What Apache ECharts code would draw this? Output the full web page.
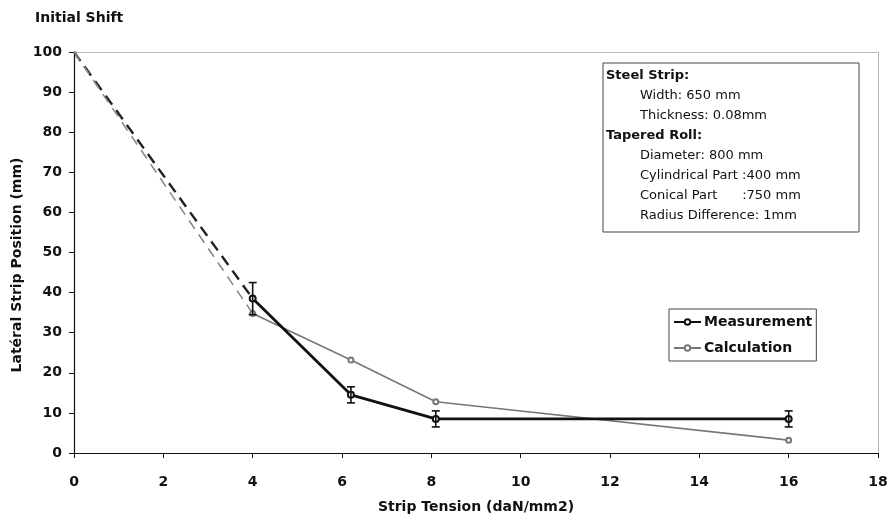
<!DOCTYPE html>
<html>
<head>
<meta charset="utf-8">
<script src="https://cdn.jsdelivr.net/npm/echarts@6/dist/echarts.min.js"></script>
<style>
  html, body { margin: 0; padding: 0; background: #fff; }
  #chart { width: 891px; height: 524px; }
</style>
</head>
<body>
<div id="chart"></div>
<script>
// measured points with error bars
const measX = [4, 6.2, 8.1, 16]
const measY = [38.5, 14.5, 8.5, 8.5]
const measErr = [4, 2, 2, 2]
// calculated points
const calcX = [4, 6.2, 8.1, 16]
const calcY = [34.8, 23.2, 12.8, 3.2]
// initial shift, extrapolated back to zero tension
const initialShift = [0, 100]
const xTicks = [0, 2, 4, 6, 8, 10, 12, 14, 16, 18]
const yTicks = [0, 10, 20, 30, 40, 50, 60, 70, 80, 90, 100]
const infoLines = [
  ['Steel Strip:', true],
  ['Width: 650 mm', false],
  ['Thickness: 0.08mm', false],
  ['Tapered Roll:', true],
  ['Diameter: 800 mm', false],
  ['Cylindrical Part :400 mm', false],
  ['Conical Part      :750 mm', false],
  ['Radius Difference: 1mm', false]
]

const font = 'DejaVu Sans'
const pair = (xs, ys) => xs.map((x, i) => [x, ys[i]])

let infoGraphics = [{
  type: 'rect',
  shape: { x: 603, y: 63, width: 256, height: 169 },
  style: { fill: '#fff', stroke: '#444', lineWidth: 1 }
}]
infoLines.forEach((l, i) => {
  infoGraphics.push({
    type: 'text',
    left: l[1] ? 606 : 640,
    top: 69 + i * 20,
    style: {
      text: l[0],
      font: (l[1] ? 'bold ' : '') + '13px "' + font + '"',
      fill: '#111'
    }
  })
})

let myChart = echarts.init(document.getElementById('chart'))
myChart.setOption({
  animation: false,
  backgroundColor: '#fff',
  textStyle: { fontFamily: font },
  grid: { left: 74, right: 13, top: 52, bottom: 71 },
  title: {
    text: 'Initial Shift',
    left: 30,
    top: 6,
    textStyle: { fontFamily: font, fontSize: 14, fontWeight: 'bold', color: '#111' }
  },
  legend: {
    orient: 'vertical',
    left: 669,
    top: 309,
    padding: [5, 4],
    itemGap: 10,
    itemWidth: 27,
    itemHeight: 7,
    borderColor: '#444',
    borderWidth: 1,
    backgroundColor: '#fff',
    data: ['Measurement', 'Calculation'],
    textStyle: { fontFamily: font, fontSize: 14, fontWeight: 'bold', color: '#111', padding: [0, 0, 0, -2], lineHeight: 16 }
  },
  xAxis: [
    {
      type: 'value',
      min: xTicks[0],
      max: xTicks[xTicks.length - 1],
      interval: 2,
      name: 'Strip Tension (daN/mm2)',
      nameLocation: 'middle',
      nameGap: 47,
      nameTextStyle: { fontFamily: font, fontSize: 14, fontWeight: 'bold', color: '#111' },
      axisLine: { lineStyle: { color: '#111', width: 1.2 } },
      axisTick: { show: true, length: 5, lineStyle: { color: '#111' } },
      axisLabel: { margin: 22, fontFamily: font, fontSize: 14, fontWeight: 'bold', color: '#111' },
      splitLine: { show: false }
    },
    {
      type: 'value',
      position: 'top',
      min: xTicks[0],
      max: xTicks[xTicks.length - 1],
      axisLine: { show: true, onZero: false, lineStyle: { color: '#aaa', type: 'dotted' } },
      axisTick: { show: false },
      axisLabel: { show: false },
      splitLine: { show: false }
    }
  ],
  yAxis: [
    {
      type: 'value',
      min: yTicks[0],
      max: yTicks[yTicks.length - 1],
      interval: 10,
      axisLine: { show: true, lineStyle: { color: '#111', width: 1.2 } },
      axisTick: { show: true, length: 5, lineStyle: { color: '#111' } },
      axisLabel: { margin: 12, fontFamily: font, fontSize: 14, fontWeight: 'bold', color: '#111' },
      splitLine: { show: false }
    },
    {
      type: 'value',
      position: 'right',
      min: yTicks[0],
      max: yTicks[yTicks.length - 1],
      axisLine: { show: true, onZero: false, lineStyle: { color: '#aaa', type: 'dotted' } },
      axisTick: { show: false },
      axisLabel: { show: false },
      splitLine: { show: false }
    }
  ],
  graphic: infoGraphics.concat([{
    type: 'text',
    rotation: Math.PI / 2,
    style: {
      text: 'Latéral Strip Position (mm)',
      font: 'bold 14px "' + font + '"',
      fill: '#111',
      align: 'center',
      verticalAlign: 'middle'
    },
    x: 17,
    y: 265
  }]),
  series: [
    {
      name: 'dashMeas',
      type: 'line',
      data: [initialShift, [measX[0], measY[0]]],
      symbol: 'none',
      lineStyle: { color: '#222', width: 2.4, type: [11, 7] },
      z: 1
    },
    {
      name: 'dashCalc',
      type: 'line',
      data: [initialShift, [calcX[0], calcY[0]]],
      symbol: 'none',
      lineStyle: { color: '#8a8a8a', width: 1.6, type: [10, 7] },
      z: 1
    },
    {
      name: 'Calculation',
      type: 'line',
      data: pair(calcX, calcY),
      symbol: 'emptyCircle',
      symbolSize: 5,
      itemStyle: { color: '#777', borderWidth: 1 },
      lineStyle: { color: '#777', width: 1.6 },
      z: 2
    },
    {
      name: 'Measurement',
      type: 'line',
      data: pair(measX, measY),
      symbol: 'emptyCircle',
      symbolSize: 6,
      itemStyle: { color: '#111', borderWidth: 1.5 },
      lineStyle: { color: '#111', width: 2.8 },
      z: 3
    },
    {
      name: 'errors',
      type: 'custom',
      data: measX.map((x, i) => [x, measY[i] - measErr[i], measY[i] + measErr[i]]),
      renderItem: (params, api) => {
        let lo = api.coord([api.value(0), api.value(1)])
        let hi = api.coord([api.value(0), api.value(2)])
        let w = 4
        let st = { stroke: '#111', lineWidth: 1.6 }
        return {
          type: 'group',
          children: [
            { type: 'line', shape: { x1: lo[0], y1: lo[1], x2: hi[0], y2: hi[1] }, style: st },
            { type: 'line', shape: { x1: lo[0] - w, y1: lo[1], x2: lo[0] + w, y2: lo[1] }, style: st },
            { type: 'line', shape: { x1: hi[0] - w, y1: hi[1], x2: hi[0] + w, y2: hi[1] }, style: st }
          ]
        }
      },
      z: 4
    }
  ]
})
</script>
</body>
</html>
